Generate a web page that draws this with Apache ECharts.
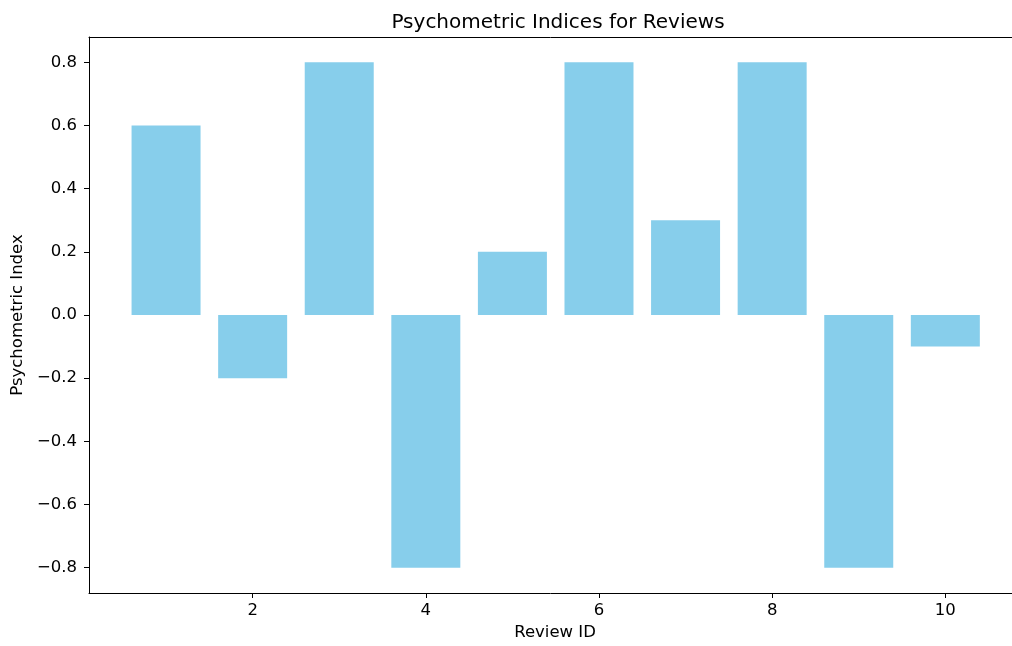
<!DOCTYPE html>
<html>
<head>
<meta charset="utf-8">
<script src="https://cdn.jsdelivr.net/npm/echarts@6/dist/echarts.min.js"></script>
<style>
  html, body { margin: 0; padding: 0; background: #fff; }
  #chart { width: 1012px; height: 646px; }
</style>
</head>
<body>
<div id="chart"></div>
<script>
const reviewIds = [1, 2, 3, 4, 5, 6, 7, 8, 9, 10];
const indices = [0.6, -0.2, 0.8, -0.8, 0.2, 0.8, 0.3, 0.8, -0.8, -0.1];
const xTicks = [2, 4, 6, 8, 10];
const yTicks = [-0.8, -0.6, -0.4, -0.2, 0.0, 0.2, 0.4, 0.6, 0.8];

const font = "DejaVu Sans";
const fmtY = v => {
  const s = Math.abs(v) < 1e-9 ? "0.0" : v.toFixed(1);
  return s.replace("-", "\u2212");
};

const chart = echarts.init(document.getElementById("chart"));

const axisLine = { show: true, onZero: false, lineStyle: { color: "#000", width: 1 } };

// the reference is cropped at the right, so the axis stops at the picture edge
chart.setOption({
  animation: false,
  title: {
    text: "Psychometric Indices for Reviews",
    left: 553,
    top: 8,
    textAlign: "center",
    textStyle: { fontFamily: font, fontSize: 20, fontWeight: "normal", color: "#000" }
  },
  grid: { left: 89, right: 0, top: 37, bottom: 53, containLabel: false },
  xAxis: [
    {
      type: "value",
      min: 0.11,
      max: 10.77,
      name: "Review ID",
      nameLocation: "middle",
      nameGap: 31,
      nameTextStyle: { fontFamily: font, fontSize: 16.5, color: "#000", padding: [0, 0, 0, 9] },
      axisLine: axisLine,
      axisTick: { show: true, length: 5, customValues: xTicks, lineStyle: { color: "#000" } },
      axisLabel: { customValues: xTicks, fontFamily: font, fontSize: 16.5, color: "#000", margin: 9 },
      splitLine: { show: false }
    },
    {
      type: "value",
      position: "top",
      min: 0.11,
      max: 10.77,
      axisLine: axisLine,
      axisTick: { show: false },
      axisLabel: { show: false },
      splitLine: { show: false }
    }
  ],
  yAxis: {
    type: "value",
    min: -0.88,
    max: 0.88,
    name: "Psychometric Index",
    nameLocation: "middle",
    nameGap: 63,
    nameTextStyle: { fontFamily: font, fontSize: 16.5, color: "#000" },
    axisLine: axisLine,
    axisTick: { show: true, length: 5, customValues: yTicks, lineStyle: { color: "#000" } },
    axisLabel: { customValues: yTicks, formatter: fmtY, fontFamily: font, fontSize: 16.5, color: "#000", margin: 12 },
    splitLine: { show: false }
  },
  series: [
    {
      type: "bar",
      data: reviewIds.map((id, i) => [id, indices[i]]),
      barWidth: 69,
      itemStyle: { color: "#87CEEB" }
    }
  ]
});
</script>
</body>
</html>
